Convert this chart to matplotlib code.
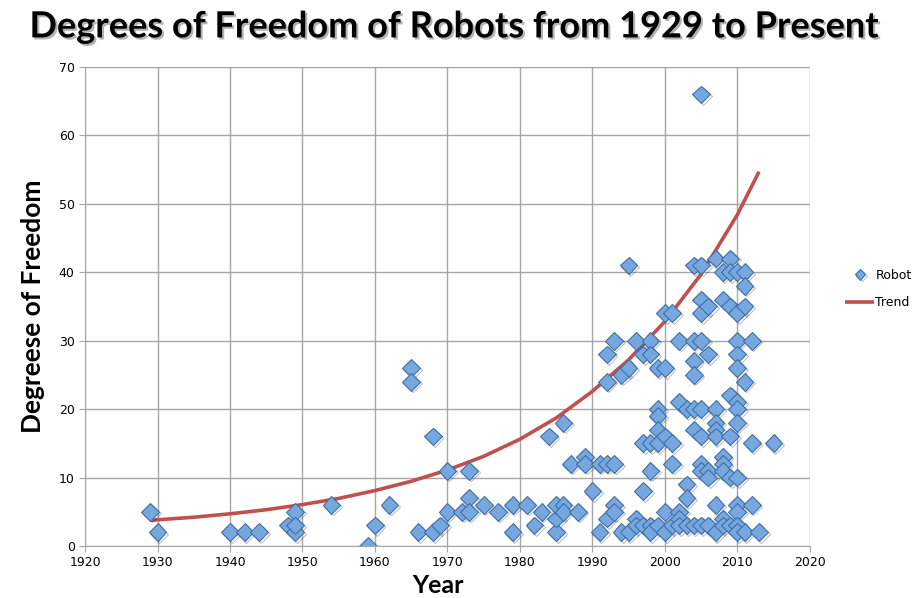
import matplotlib
matplotlib.use("Agg")
import matplotlib.pyplot as plt
import matplotlib.patheffects as pe

# robot data: (year, degrees of freedom)
years = [1929, 1930, 1940, 1942, 1944, 1948, 1949, 1949, 1949, 1954,
         1959, 1960, 1962, 1965, 1965, 1966, 1968, 1968, 1969, 1970,
         1970, 1972, 1973, 1973, 1973, 1975, 1977, 1979, 1979, 1981,
         1982, 1983, 1984, 1985, 1985, 1985, 1986, 1986, 1986, 1987,
         1988, 1989, 1989, 1990, 1991, 1991, 1992, 1992, 1992, 1992,
         1993, 1993, 1993, 1993, 1994, 1994, 1995, 1995, 1995, 1996,
         1996, 1996, 1997, 1997, 1997, 1997, 1998, 1998, 1998, 1998,
         1998, 1998, 1999, 1999, 1999, 1999, 1999, 1999, 2000, 2000,
         2000, 2000, 2000, 2001, 2001, 2001, 2001, 2002, 2002, 2002,
         2002, 2002, 2003, 2003, 2003, 2003, 2004, 2004, 2004, 2004,
         2004, 2004, 2004, 2005, 2005, 2005, 2005, 2005, 2005, 2005,
         2005, 2005, 2005, 2006, 2006, 2006, 2006, 2006, 2007, 2007,
         2007, 2007, 2007, 2007, 2007, 2008, 2008, 2008, 2008, 2008,
         2008, 2008, 2009, 2009, 2009, 2009, 2009, 2009, 2009, 2010,
         2010, 2010, 2010, 2010, 2010, 2010, 2010, 2010, 2010, 2010,
         2010, 2010, 2011, 2011, 2011, 2011, 2011, 2012, 2012, 2012,
         2013, 2015]
dof = [5, 2, 2, 2, 2, 3, 5, 2, 3, 6,
       0, 3, 6, 26, 24, 2, 16, 2, 3, 11,
       5, 5, 7, 11, 5, 6, 5, 6, 2, 6,
       3, 5, 16, 2, 4, 6, 18, 6, 5, 12,
       5, 13, 12, 8, 12, 2, 12, 28, 24, 4,
       30, 12, 6, 5, 25, 2, 41, 26, 2, 30,
       4, 3, 28, 15, 8, 3, 30, 28, 15, 11,
       3, 2, 26, 20, 19, 17, 15, 3, 34, 26,
       16, 5, 2, 34, 15, 12, 3, 21, 30, 5,
       4, 3, 20, 9, 7, 3, 41, 30, 27, 25,
       20, 17, 3, 66, 41, 36, 34, 30, 20, 16,
       12, 11, 3, 35, 28, 11, 10, 3, 42, 20,
       18, 17, 16, 6, 2, 40, 36, 13, 12, 11,
       4, 3, 42, 40, 35, 22, 16, 10, 3, 40,
       34, 30, 28, 26, 21, 20, 18, 10, 6, 5,
       3, 2, 40, 38, 35, 24, 2, 30, 15, 6,
       2, 15]

# trend curve as drawn in the chart
trend_years = [1929, 1935, 1940, 1945, 1950, 1955, 1960, 1965, 1970, 1975,
               1980, 1985, 1990, 1995, 2000, 2005, 2010, 2013]
trend_vals = [3.75, 4.2, 4.7, 5.3, 6.05, 6.95, 8.1, 9.45, 11.1, 13.1,
              15.6, 18.7, 22.6, 27.2, 32.8, 39.7, 48.4, 54.7]

fig = plt.figure(figsize=(9.15, 5.98), dpi=100)
ax = fig.add_axes([0.093, 0.087, 0.792, 0.801])

ax.plot(trend_years, trend_vals, color="#C0504D", linewidth=2.6,
        label="Trend", zorder=2, solid_capstyle="butt")
ax.plot(years, dof, linestyle="none", marker="D", markersize=9,
        markerfacecolor="#76A7DE", markeredgecolor="#3F6EA6",
        markeredgewidth=0.8, label="Robot", zorder=3,
        path_effects=[pe.SimpleLineShadow(offset=(1.2, -1.2), alpha=0.25),
                      pe.Normal()])

ax.set_xlim(1920, 2020)
ax.set_ylim(0, 70)
ax.set_xticks(range(1920, 2021, 10))
ax.set_yticks(range(0, 71, 10))
ax.grid(True, color="#A6A6A6", linewidth=1)
ax.set_axisbelow(True)
for s in ["top", "right"]:
    ax.spines[s].set_visible(False)
for s in ["left", "bottom"]:
    ax.spines[s].set_color("#A6A6A6")
ax.tick_params(colors="#A6A6A6", labelcolor="black", labelsize=9,
               length=4, direction="out")

ax.set_xlabel("Year", fontsize=18, fontweight="bold", family="Lato", labelpad=2)
ax.xaxis.set_label_coords(0.487, -0.058)
ax.set_ylabel("Degreese of Freedom", fontsize=19, fontweight="bold",
              family="Lato", labelpad=10)

fig.text(0.496, 0.955, "Degrees of Freedom of Robots from 1929 to Present",
         ha="center", va="center", fontsize=26, fontweight="bold", family="Lato",
         path_effects=[pe.withSimplePatchShadow(offset=(1.5, -1.5), alpha=0.3)])

handles, labels = ax.get_legend_handles_labels()
fig.legend([handles[1], handles[0]], [labels[1], labels[0]],
           loc="center left", bbox_to_anchor=(0.924, 0.517), frameon=False,
           fontsize=9, handlelength=2.3, labelspacing=1.15, handletextpad=0.1,
           markerscale=0.6, borderaxespad=0, borderpad=0)

fig.savefig("out.png", dpi=100)
